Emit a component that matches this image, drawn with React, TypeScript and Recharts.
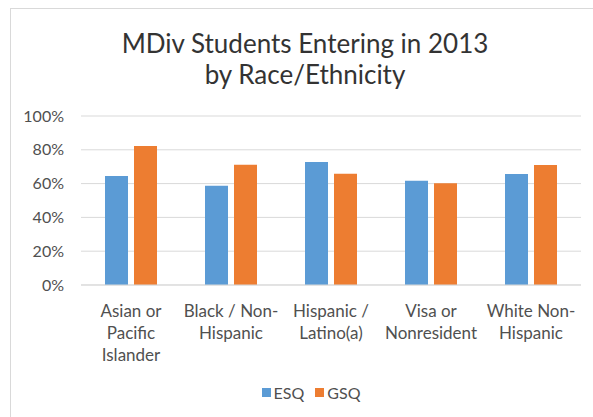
import { BarChart, Bar, XAxis, YAxis, CartesianGrid, Legend } from "recharts";

document.body.style.margin = "0";
document.body.style.overflow = "hidden";

const categories = [
  "Asian or\nPacific\nIslander",
  "Black / Non-\nHispanic",
  "Hispanic /\nLatino(a)",
  "Visa or\nNonresident",
  "White Non-\nHispanic",
];
const esq = [0.645, 0.588, 0.728, 0.617, 0.657];
const gsq = [0.822, 0.712, 0.659, 0.602, 0.71];
const yTicks = [0, 0.2, 0.4, 0.6, 0.8, 1];

const data = categories.map((name, i) => ({ name, ESQ: esq[i], GSQ: gsq[i] }));

const FONT = "Lato, 'Open Sans', sans-serif";
const BLUE = "#5b9bd5";
const ORANGE = "#ed7d31";
const GRID = "#d9d9d9";
const TEXT = "#505050";

function CategoryTick(props: any) {
  const { x, y, payload } = props;
  const lines = String(payload.value).split("\n");
  return (
    <text x={x} y={y} textAnchor="middle" fill={TEXT} fontSize={17} fontFamily={FONT}>
      {lines.map((l, i) => (
        <tspan key={i} x={x} dy={i === 0 ? 30 : 22}>
          {l}
        </tspan>
      ))}
    </text>
  );
}

function LegendContent() {
  const items = [
    { label: "ESQ", color: BLUE },
    { label: "GSQ", color: ORANGE },
  ];
  return (
    <div
      style={{
        height: 20,
        display: "flex",
        justifyContent: "center",
        alignItems: "center",
        paddingLeft: 30,
        fontFamily: FONT,
        fontSize: 16,
        color: TEXT,
      }}
    >
      {items.map((it, i) => (
        <div key={it.label} style={{ display: "flex", alignItems: "center", marginLeft: i ? 11 : 0 }}>
          <span style={{ width: 9, height: 9, background: it.color, marginRight: 3, display: "inline-block" }} />
          <span>{it.label}</span>
        </div>
      ))}
    </div>
  );
}

export default function App() {
  return (
    <>
      <div
        style={{
          position: "absolute",
          left: 10,
          top: 8,
          width: 582,
          height: 408,
          borderLeft: `1px solid ${GRID}`,
          borderTop: `1px solid ${GRID}`,
        }}
      >
        <BarChart
          width={582}
          height={408}
          data={data}
          margin={{ top: 107, right: 12, bottom: 15, left: 0 }}
          barCategoryGap={24}
          barGap={6}
        >
          <CartesianGrid stroke={GRID} vertical={false} />
          <XAxis
            dataKey="name"
            interval={0}
            height={97}
            tickSize={0}
            tickLine={false}
            axisLine={{ stroke: GRID }}
            tick={<CategoryTick />}
          />
          <YAxis
            domain={[0, 1]}
            ticks={yTicks}
            width={70}
            tickSize={0}
            tickMargin={17}
            tickLine={false}
            axisLine={false}
            tickFormatter={(v: number) => `${Math.round(v * 100)}%`}
            tick={{ fill: TEXT, fontSize: 16, fontFamily: FONT }}
          />
          <Legend verticalAlign="bottom" content={<LegendContent />} />
          <Bar dataKey="ESQ" fill={BLUE} isAnimationActive={false} />
          <Bar dataKey="GSQ" fill={ORANGE} isAnimationActive={false} />
        </BarChart>
      </div>
      <div
        style={{
          position: "absolute",
          left: 10,
          top: 28,
          width: 590,
          textAlign: "center",
          fontFamily: FONT,
          fontSize: 26,
          lineHeight: "31px",
          color: "#333333",
        }}
      >
        MDiv Students Entering in 2013
        <br />
        by Race/Ethnicity
      </div>
    </>
  );
}
